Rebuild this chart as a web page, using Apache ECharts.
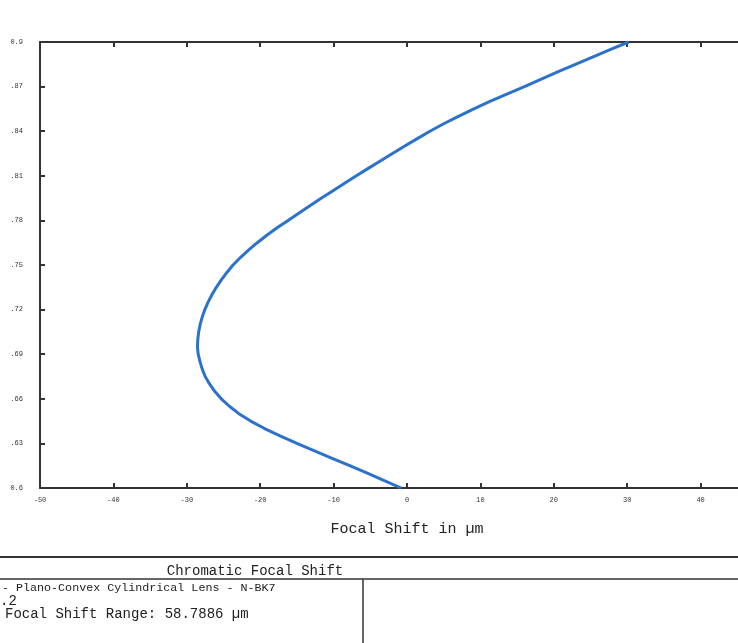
<!DOCTYPE html>
<html>
<head>
<meta charset="utf-8">
<script src="https://cdn.jsdelivr.net/npm/echarts@6/dist/echarts.min.js"></script>
<style>
  html, body { margin: 0; padding: 0; background: #fff; }
  #chart { width: 738px; height: 643px; }
</style>
</head>
<body>
<div id="chart"></div>
<script>
// Wavelength in µm (vertical axis), 0.005 µm steps from 0.600 to 0.900
const wavelengths = [
  0.600, 0.605, 0.610, 0.615, 0.620, 0.625, 0.630, 0.635, 0.640, 0.645,
  0.650, 0.655, 0.660, 0.665, 0.670, 0.675, 0.680, 0.685, 0.690, 0.695,
  0.700, 0.705, 0.710, 0.715, 0.720, 0.725, 0.730, 0.735, 0.740, 0.745,
  0.750, 0.755, 0.760, 0.765, 0.770, 0.775, 0.780, 0.785, 0.790, 0.795,
  0.800, 0.805, 0.810, 0.815, 0.820, 0.825, 0.830, 0.835, 0.840, 0.845,
  0.850, 0.855, 0.860, 0.865, 0.870, 0.875, 0.880, 0.885, 0.890, 0.895,
  0.900
];
// Focal shift in µm at each wavelength
const focalShift = [
  -0.8, -3.1, -5.4, -7.8, -10.2, -12.6, -15.0, -17.3, -19.4, -21.3,
  -22.9, -24.2, -25.3, -26.2, -26.9, -27.5, -27.9, -28.2, -28.45, -28.55,
  -28.5, -28.38, -28.18, -27.9, -27.54, -27.1, -26.58, -25.98, -25.3, -24.54,
  -23.7, -22.7, -21.6, -20.4, -19.1, -17.7, -16.2, -14.7, -13.18, -11.64,
  -10.08, -8.5, -6.9, -5.28, -3.64, -1.98, -0.3, 1.4, 3.12, 5.0,
  7.0, 9.1, 11.3, 13.6, 16.0, 18.3, 20.6, 22.95, 25.35, 27.75,
  30.2
];
// Tick labels of the wavelength axis, bottom to top
const wavelengthTicks = ['0.6', '.63', '.66', '.69', '.72', '.75', '.78', '.81', '.84', '.87', '0.9'];

const points = wavelengths.map((w, i) => [focalShift[i], w]);

const mono = 'Liberation Mono';
const axisColor = '#333';

const chart = echarts.init(document.getElementById('chart'));
chart.setOption({
  backgroundColor: '#fff',
  animation: false,
  grid: { left: 40, top: 42, width: 734, height: 446, outerBoundsMode: 'none', containLabel: false },
  xAxis: [{
    type: 'value',
    position: 'bottom',
    min: -50, max: 50, interval: 10,
    name: 'Focal Shift in µm',
    nameLocation: 'middle',
    nameGap: 34,
    nameTextStyle: { fontFamily: mono, fontSize: 15, color: '#222' },
    axisLine: { onZero: false, lineStyle: { color: axisColor, width: 2 } },
    axisTick: { inside: true, length: 5, lineStyle: { color: axisColor, width: 2 } },
    axisLabel: { fontFamily: mono, fontSize: 7, color: '#333', margin: 9 },
    splitLine: { show: false }
  }, {
    type: 'value',
    position: 'top',
    min: -50, max: 50, interval: 10,
    axisLine: { onZero: false, lineStyle: { color: axisColor, width: 2 } },
    axisTick: { inside: true, length: 5, lineStyle: { color: axisColor, width: 2 } },
    axisLabel: { show: false },
    splitLine: { show: false }
  }],
  yAxis: {
    type: 'value',
    min: 0.6, max: 0.9, interval: 0.03,
    axisLine: { onZero: false, lineStyle: { color: axisColor, width: 2 } },
    axisTick: { inside: true, length: 5, lineStyle: { color: axisColor, width: 2 } },
    axisLabel: {
      fontFamily: mono, fontSize: 7, color: '#333', margin: 17,
      formatter: v => wavelengthTicks[Math.round((v - 0.6) / 0.03)] || ''
    },
    splitLine: { show: false }
  },
  series: [{
    type: 'line',
    data: points,
    showSymbol: false,
    lineStyle: { color: '#2c72cc', width: 3 }
  }],
  graphic: [
    { type: 'line', shape: { x1: 0, y1: 557, x2: 738, y2: 557 }, style: { stroke: '#333', lineWidth: 2 } },
    { type: 'line', shape: { x1: 0, y1: 579, x2: 738, y2: 579 }, style: { stroke: '#333', lineWidth: 1.5 } },
    { type: 'line', shape: { x1: 363, y1: 579, x2: 363, y2: 643 }, style: { stroke: '#333', lineWidth: 1.5 } },
    { type: 'text', x: 255, y: 571, style: { text: 'Chromatic Focal Shift', font: '14px "Liberation Mono"', fill: '#222', textAlign: 'center', textVerticalAlign: 'middle' } },
    { type: 'text', x: 2, y: 588, style: { text: '- Plano-Convex Cylindrical Lens - N-BK7', font: '11.7px "Liberation Mono"', fill: '#222', textVerticalAlign: 'middle' } },
    { type: 'text', x: 0, y: 601, style: { text: '.2', font: '14px "Liberation Mono"', fill: '#222', textVerticalAlign: 'middle' } },
    { type: 'text', x: 5, y: 614, style: { text: 'Focal Shift Range: 58.7886 µm', font: '14px "Liberation Mono"', fill: '#222', textVerticalAlign: 'middle' } }
  ]
});
</script>
</body>
</html>
